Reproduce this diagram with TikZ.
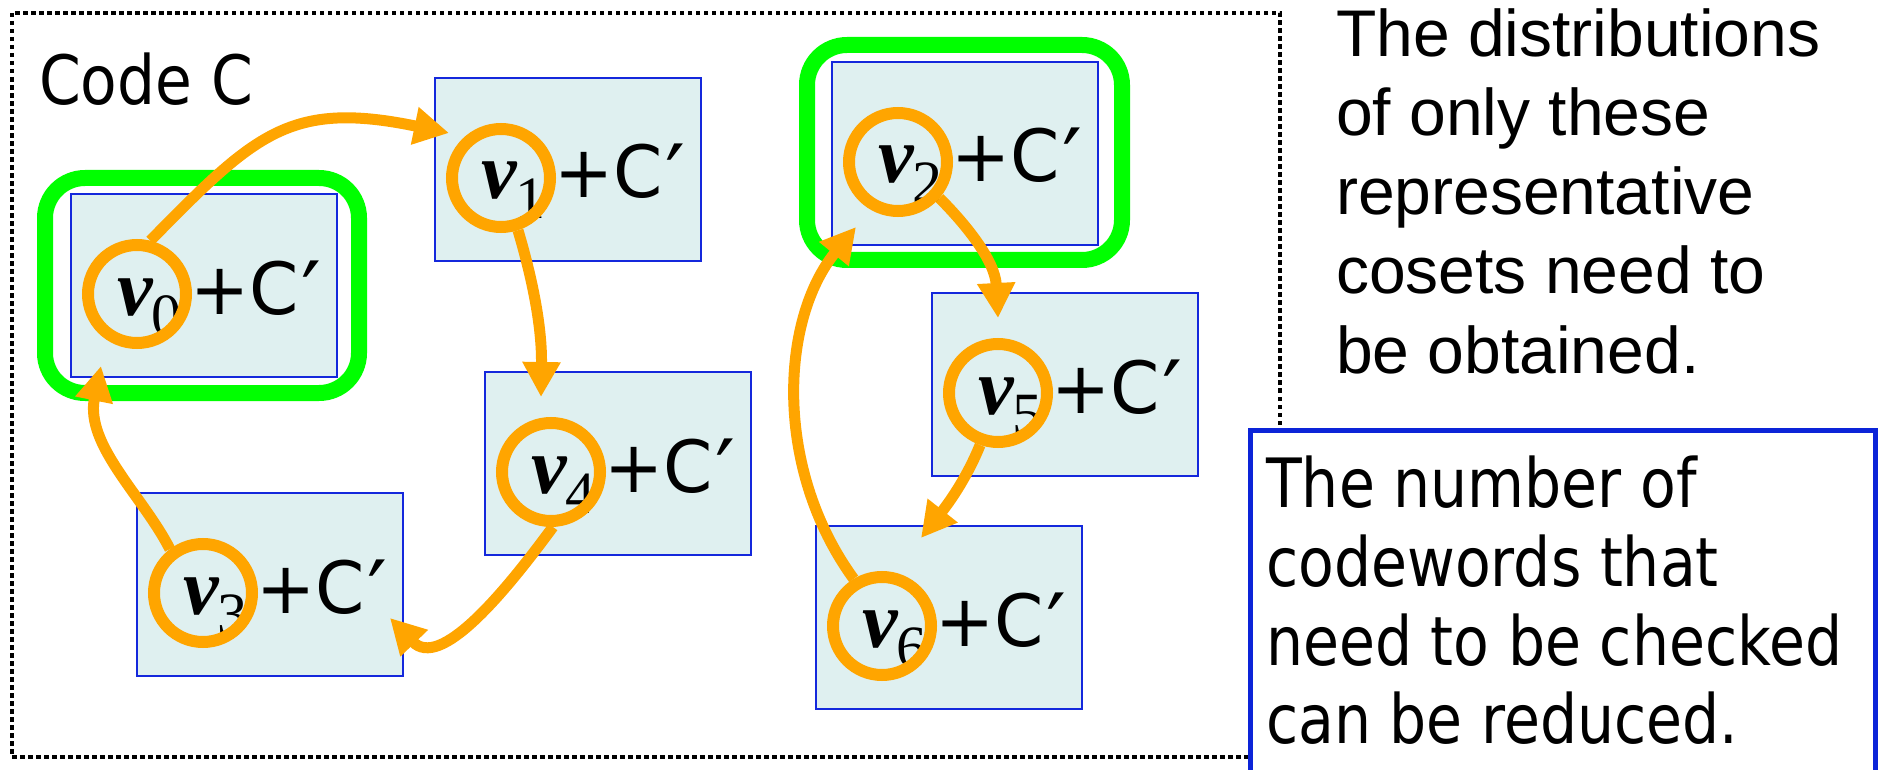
\documentclass[tikz,border=0pt]{standalone}
\usepackage{fontspec}
\usetikzlibrary{arrows.meta}
\newfontfamily\tahf[FakeStretch=0.86]{DejaVu Sans}
\newfontfamily\tahc[FakeStretch=0.88]{DejaVu Sans}
\newfontfamily\tahw[FakeStretch=0.98]{DejaVu Sans}
\newfontfamily\arif{Liberation Sans}
\newfontfamily\tmsf{Liberation Serif}
\definecolor{boxfill}{RGB}{223,240,240}
\definecolor{boxblue}{RGB}{20,40,220}
\definecolor{tbblue}{RGB}{12,36,216}
\definecolor{orng}{RGB}{255,165,0}
\definecolor{grn}{RGB}{0,255,0}
\tikzset{
 cbox/.style={draw=boxblue, line width=2.5pt, fill=boxfill, minimum width=266pt, minimum height=183pt, inner sep=0pt},
 ccirc/.style={circle, draw=orng, line width=12pt, minimum size=98pt, inner sep=0pt},
 vlab/.style={anchor=base west, inner sep=0pt, font=\fontsize{80}{80}\selectfont\tmsf\bfseries\itshape},
 slab/.style={anchor=base west, inner sep=0pt, font=\fontsize{60}{60}\selectfont\tmsf},
 plab/.style={anchor=base west, inner sep=0pt, font=\fontsize{72}{72}\selectfont\tahw},
 greenbox/.style={draw=grn, line width=16pt, rounded corners=40pt, inner sep=0pt},
 arr/.style={draw=orng, line width=11pt, -{Triangle[length=35pt,width=36pt]}},
 txtA/.style={anchor=base west, inner sep=0pt, font=\fontsize{66}{66}\selectfont\arif},
 txtB/.style={anchor=base west, inner sep=0pt, font=\fontsize{68}{68}\selectfont\tahf},
 txtC/.style={anchor=base west, inner sep=0pt, font=\fontsize{68}{68}\selectfont\tahc},
 frame/.style={draw=black, line width=4.5pt, dash pattern=on 4.5pt off 3.5pt, inner sep=0pt},
 tbox/.style={draw=tbblue, line width=5pt, fill=white, inner sep=0pt}
}
\newcommand\bigprime{\kern3pt\raisebox{-12pt}{\fontsize{90}{90}\selectfont ′}}
\newcommand\cosetbox[4]{%
 \node[cbox] (b#1) at (#2+133,#3+91.5) {};
 \node[vlab] (lv#1) at (#2+46,#3+121) {v};
 \node[slab] (ls#1) at (#2+80,#3+141) {#4};
 \node[plab] (lp#1) at (#2+119,#3+120) {+C\bigprime};
}
\newcommand\cosetring[3]{%
 \node[ccirc] (c#1) at (#2+66,#3+100) {};
}
\begin{document}
\begin{tikzpicture}[x=1pt,y=-1pt]
\useasboundingbox (0,0) rectangle (1883,770);
\clip (0,0) rectangle (1883,770);
% outer dotted frame
\node[frame, minimum width=1268pt, minimum height=744pt] (fr) at (646,385) {};
\node[txtC] (code) at (39,105) {Code C};
% green highlight frames
\node[greenbox, minimum width=314pt, minimum height=215pt] (g0) at (202,285.5) {};
\node[greenbox, minimum width=315pt, minimum height=215pt] (g2) at (964.5,152.5) {};
% coset boxes
\cosetbox{0}{71}{194}{0}
\cosetbox{1}{435}{78}{1}
\cosetbox{2}{832}{62}{2}
\cosetbox{3}{137}{493}{3}
\cosetbox{4}{485}{372}{4}
\cosetbox{5}{932}{293}{5}
\cosetbox{6}{816}{526}{6}
% rings
\cosetring{0}{71}{194}
\cosetring{1}{435}{78}
\cosetring{2}{832}{62}
\cosetring{3}{137}{493}
\cosetring{4}{485}{372}
\cosetring{5}{932}{293}
\cosetring{6}{816}{526}
% arrow tips
\coordinate (t1) at (449,133);
\coordinate (t2) at (541,397);
\coordinate (t3) at (390,618);
\coordinate (t4) at (101,366);
\coordinate (t5) at (998,318);
\coordinate (t6) at (921,538);
\coordinate (t7) at (856,227);
\draw[arr] (c0.76) .. controls +(105,-107) and +(-159,-33) .. (t1);
\draw[arr] (c1.-72) .. controls +(16,54) and +(1,-67) .. (t2);
\draw[arr] (c4.-88) .. controls +(-50,68) and +(50,52) .. (t3);
\draw[arr] (c3.127) .. controls +(-27,-53) and +(-16,79) .. (t4);
\draw[arr] (c2.-41) .. controls +(25,25) and +(-3,-58) .. (t5);
\draw[arr] (c5.-109) .. controls +(-10,25) and +(34,-43) .. (t6);
\draw[arr] (c6.121) .. controls +(-80,-110) and +(-76,93) .. (t7);
% right texts
\node[txtA] (a1) at (1336,57) {The distributions};
\node[txtA] (a2) at (1336,136) {of only these};
\node[txtA] (a3) at (1336,215) {representative};
\node[txtA] (a4) at (1336,294) {cosets need to};
\node[txtA] (a5) at (1336,373) {be obtained.};
\node[tbox, minimum width=625pt, minimum height=370pt] (tb) at (1562.5,615) {};
\node[txtB] (b1x) at (1266,507) {The number of};
\node[txtB] (b2x) at (1266,586) {codewords that};
\node[txtB] (b3x) at (1266,665) {need to be checked};
\node[txtB] (b4x) at (1266,743) {can be reduced.};
\end{tikzpicture}
\end{document}
